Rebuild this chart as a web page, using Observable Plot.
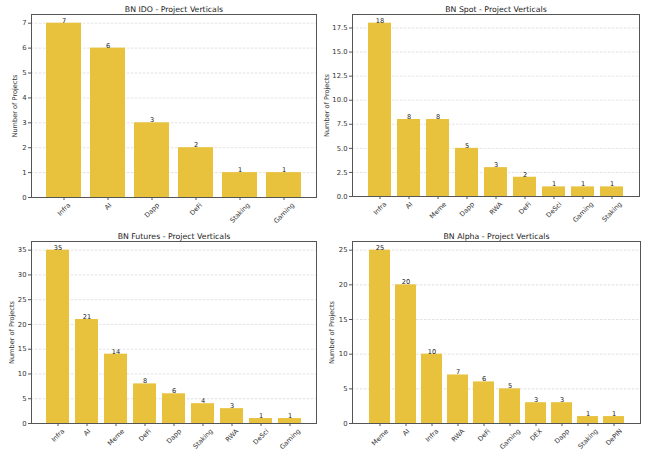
<!DOCTYPE html>
<html><head><meta charset="utf-8">
<script src="https://cdn.jsdelivr.net/npm/d3@7"></script>
<script src="https://cdn.jsdelivr.net/npm/@observablehq/plot@0.6"></script>
<style>
body{margin:0;background:#fff}
#grid{position:relative;width:650px;height:453px;overflow:hidden;background:#fff}
.cell{position:absolute}
.cell svg{overflow:visible}
</style>
</head><body><div id="grid"></div>
<script>
// ---- data ----
const idoCategories = ["Infra","AI","Dapp","DeFi","Staking","Gaming"];
const idoValues = [7,6,3,2,1,1];
const idoTicks = [0,1,2,3,4,5,6,7];

const spotCategories = ["Infra","AI","Meme","Dapp","RWA","DeFi","DeSci","Gaming","Staking"];
const spotValues = [18,8,8,5,3,2,1,1,1];
const spotTicks = [0,2.5,5,7.5,10,12.5,15,17.5];

const futuresCategories = ["Infra","AI","Meme","DeFi","Dapp","Staking","RWA","DeSci","Gaming"];
const futuresValues = [35,21,14,8,6,4,3,1,1];
const futuresTicks = [0,5,10,15,20,25,30,35];

const alphaCategories = ["Meme","AI","Infra","RWA","DeFi","Gaming","DEX","Dapp","Staking","DePIN"];
const alphaValues = [25,20,10,7,6,5,3,3,1,1];
const alphaTicks = [0,5,10,15,20,25];

const titles = ["BN IDO - Project Verticals","BN Spot - Project Verticals","BN Futures - Project Verticals","BN Alpha - Project Verticals"];
const yLabel = "Number of Projects";

// ---- drawing ----
const FONT = "DejaVu Sans";
const ctx = document.createElement("canvas").getContext("2d");
function textWidth(s, size){ ctx.font = `${size}px '${FONT}'`; return ctx.measureText(s).width; }

function chart({cats, vals, ticks, fmt, title, left, top, w, h, ml, mr, mt, mb, ylx}){
  const data = cats.map((c,i)=>({cat:c, val:vals[i]}));
  const n = cats.length;
  const xFont = 6.6;
  const labelMarks = cats.map(c => Plot.text([c], {
    x: d=>d, frameAnchor:"bottom", text: d=>d, rotate:-45,
    textAnchor:"middle", lineAnchor:"middle", fontSize:xFont, fill:"#333",
    dy: 4.5 + (textWidth(c, xFont) + xFont*0.9)*0.3536
  }));
  const p = Plot.plot({
    width:w, height:h, marginLeft:ml, marginRight:mr, marginTop:mt, marginBottom:mb,
    style:{fontFamily:FONT, background:"white", overflow:"visible"},
    x:{type:"band", domain:cats, paddingInner:0.2, paddingOuter:0.05*(n-0.2), axis:null},
    y:{domain:[0, d3.max(vals)*1.05], axis:null},
    marks:[
      Plot.ruleY(ticks.slice(1), {stroke:"#bbb", strokeOpacity:0.6, strokeDasharray:"2.5,1.5", strokeWidth:0.7}),
      Plot.barY(data, {x:"cat", y:"val", fill:"#E9C23D"}),
      Plot.text(data, {x:"cat", y:"val", text:d=>String(d.val), lineAnchor:"bottom", dy:-0.5, fontSize:6.6, fill:"#222"}),
      Plot.axisY({ticks, tickFormat:fmt, tickSize:3, tickPadding:2, fontSize:6.8, label:null, stroke:"#555", fill:"#333"}),
      Plot.axisX({tickSize:3, tickFormat:()=>"", label:null, stroke:"#555"}),
      ...labelMarks,
      Plot.frame({stroke:"#555", strokeWidth:1}),
      Plot.text([title], {frameAnchor:"top", text:d=>d, lineAnchor:"bottom", dy:-3, fontSize:7.8, fill:"#222"}),
      Plot.text([yLabel], {frameAnchor:"left", text:d=>d, rotate:-90, dx:ylx, fontSize:6.6, fill:"#333", textAnchor:"middle", lineAnchor:"middle"})
    ]
  });
  const cell = document.createElement("div");
  cell.className = "cell";
  cell.style.left = left+"px"; cell.style.top = top+"px";
  cell.appendChild(p);
  document.getElementById("grid").appendChild(cell);
}

chart({cats:idoCategories, vals:idoValues, ticks:idoTicks, fmt:d3.format("d"), title:titles[0],
  left:0, top:0, w:325, h:226, ml:31, mr:9, mt:14, mb:29, ylx:-16.5});
chart({cats:spotCategories, vals:spotValues, ticks:spotTicks, fmt:d3.format(".1f"), title:titles[1],
  left:325, top:0, w:325, h:226, ml:27, mr:11, mt:14, mb:30, ylx:-25.5});
chart({cats:futuresCategories, vals:futuresValues, ticks:futuresTicks, fmt:d3.format("d"), title:titles[2],
  left:0, top:226, w:325, h:227, ml:31, mr:9, mt:15, mb:30, ylx:-20});
chart({cats:alphaCategories, vals:alphaValues, ticks:alphaTicks, fmt:d3.format("d"), title:titles[3],
  left:325, top:226, w:325, h:227, ml:27, mr:10, mt:15, mb:30, ylx:-21});
</script>
</body></html>
